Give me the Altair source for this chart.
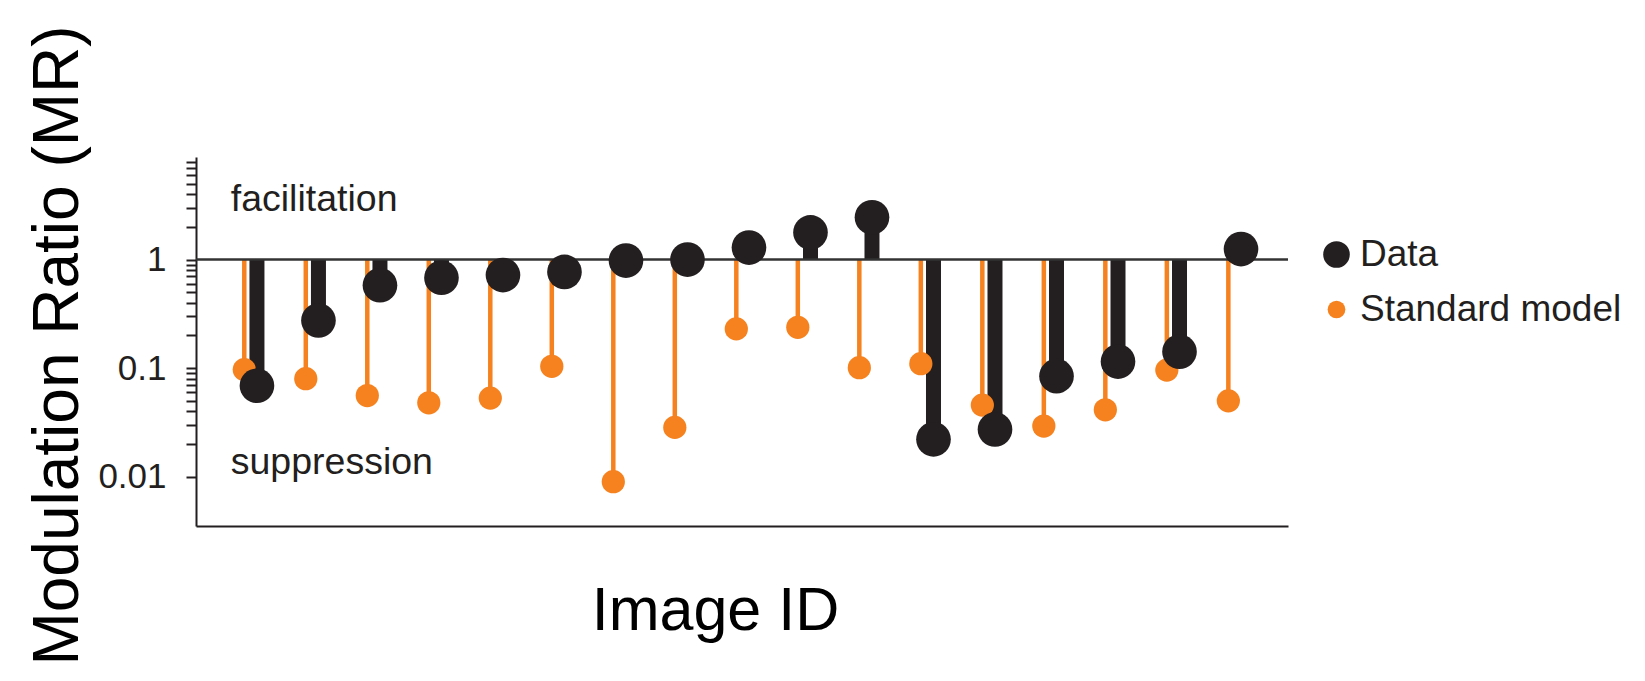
import altair as alt
import pandas as pd

# ---- data ----
image_idx = list(range(17))
data_mr = [0.069, 0.275, 0.58, 0.68, 0.72, 0.77, 0.98, 1.0, 1.29, 1.78, 2.45,
           0.0221, 0.0273, 0.0845, 0.115, 0.142, 1.25]
model_mr = [0.097, 0.080, 0.056, 0.048, 0.053, 0.104, 0.009, 0.0285, 0.23, 0.238,
            0.101, 0.110, 0.0457, 0.0293, 0.0414, 0.096, 0.050]
series_names = ["Data", "Standard model"]
series_colors = ["#231F20", "#F5821F"]
y_tick_values = [0.01, 0.02, 0.03, 0.04, 0.05, 0.06, 0.07, 0.08, 0.09,
                 0.1, 0.2, 0.3, 0.4, 0.5, 0.6, 0.7, 0.8, 0.9,
                 1, 2, 3, 4, 5, 6, 7, 8]
annot_text = ["facilitation", "suppression"]
annot_x = [-0.22, -0.22]
annot_y = [2.8, 0.0105]

FONT = "Liberation Sans"
INK = "#231F20"

df_data = pd.DataFrame({"idx": image_idx, "mr": data_mr, "series": "Data"})
df_model = pd.DataFrame({"idx": image_idx, "mr": model_mr, "series": "Standard model"})
df_all = pd.concat([df_data, df_model], ignore_index=True)
df_annot = pd.DataFrame({"text": annot_text, "x": annot_x, "y": annot_y})

xscale = alt.Scale(domain=[-0.785, 16.97], nice=False, zero=False)
yscale = alt.Scale(type="log", domain=[0.00352, 8.81], nice=False)

xaxis = alt.Axis(title="Image ID", labels=False, ticks=False, grid=False,
                 domainColor=INK, domainWidth=2, titleFontSize=61,
                 titleFont=FONT, titleFontWeight="normal", titleColor="black",
                 titleX=519, titleY=55, titleBaseline="top", titleAlign="center")
yaxis = alt.Axis(title="Modulation Ratio (MR)", values=y_tick_values, grid=False,
                 labelExpr="datum.value == 1 ? '1' : datum.value == 0.1 ? '0.1' : datum.value == 0.01 ? '0.01' : ''",
                 tickSize=10, tickWidth=2, tickColor=INK, domainColor=INK, domainWidth=2,
                 labelFont=FONT, labelFontSize=35, labelColor=INK, labelPadding=20,
                 labelFlush=False, labelOverlap=False, labelBound=False,
                 titleFont=FONT, titleFontSize=64, titleFontWeight="normal", titleColor="black",
                 titleAngle=-90, titleBaseline="alphabetic", titleX=-119, titleY=188,
                 titleAlign="center", titleLimit=0)

base_x = alt.X("xpos:Q", scale=xscale, axis=xaxis)

model_stems = alt.Chart(df_model).transform_calculate(xpos="datum.idx").mark_rule(
    color="#F5821F", strokeWidth=4.5).encode(
    x=base_x, y=alt.Y("mr:Q", scale=yscale, axis=yaxis), y2=alt.datum(1))

data_stems = alt.Chart(df_data).transform_calculate(xpos="datum.idx + 0.206").mark_rule(
    color=INK, strokeWidth=15).encode(
    x=alt.X("xpos:Q", scale=xscale), y=alt.Y("mr:Q", scale=yscale), y2=alt.datum(1))

one_line = alt.Chart(pd.DataFrame({"one": [1]})).mark_rule(
    color="#333333", strokeWidth=2.5).encode(
    y=alt.Y("one:Q", scale=yscale), x=alt.value(0), x2=alt.value(1092))

model_pts = alt.Chart(df_model).transform_calculate(xpos="datum.idx").mark_circle(
    color="#F5821F", opacity=1, size=540).encode(
    x=alt.X("xpos:Q", scale=xscale), y=alt.Y("mr:Q", scale=yscale))

data_pts = alt.Chart(df_data).transform_calculate(xpos="datum.idx + 0.206").mark_circle(
    color=INK, opacity=1, size=1200).encode(
    x=alt.X("xpos:Q", scale=xscale), y=alt.Y("mr:Q", scale=yscale))

leg = alt.Legend(title=None, orient="none", legendX=1122, legendY=79,
                 labelFont=FONT, labelFontSize=37, labelColor=INK, labelLimit=0,
                 labelOffset=5, rowPadding=17, padding=0,
                 symbolOpacity=1, symbolStrokeWidth=0)

legend_layer = alt.Chart(df_all).transform_calculate(xpos="datum.idx").mark_circle(
    opacity=0).encode(
    x=alt.X("xpos:Q", scale=xscale), y=alt.Y("mr:Q", scale=yscale),
    color=alt.Color("series:N", scale=alt.Scale(domain=series_names, range=series_colors),
                    legend=leg),
    size=alt.Size("series:N", scale=alt.Scale(domain=series_names, range=[707, 314]),
                  legend=leg))

annot = alt.Chart(df_annot).mark_text(
    font=FONT, fontSize=37.5, color=INK, align="left", baseline="alphabetic").encode(
    x=alt.X("x:Q", scale=xscale), y=alt.Y("y:Q", scale=yscale), text="text:N")

chart = alt.layer(model_stems, data_stems, one_line, annot, legend_layer, model_pts, data_pts).properties(
    width=1092, height=369,
    autosize=alt.AutoSizeParams(type="none"),
    padding={"left": 188, "top": 149, "right": 349, "bottom": 146},
).configure_view(stroke=None).configure_legend(symbolType="circle")

chart.save("out.html", embed_options={"renderer": "svg", "actions": False})
